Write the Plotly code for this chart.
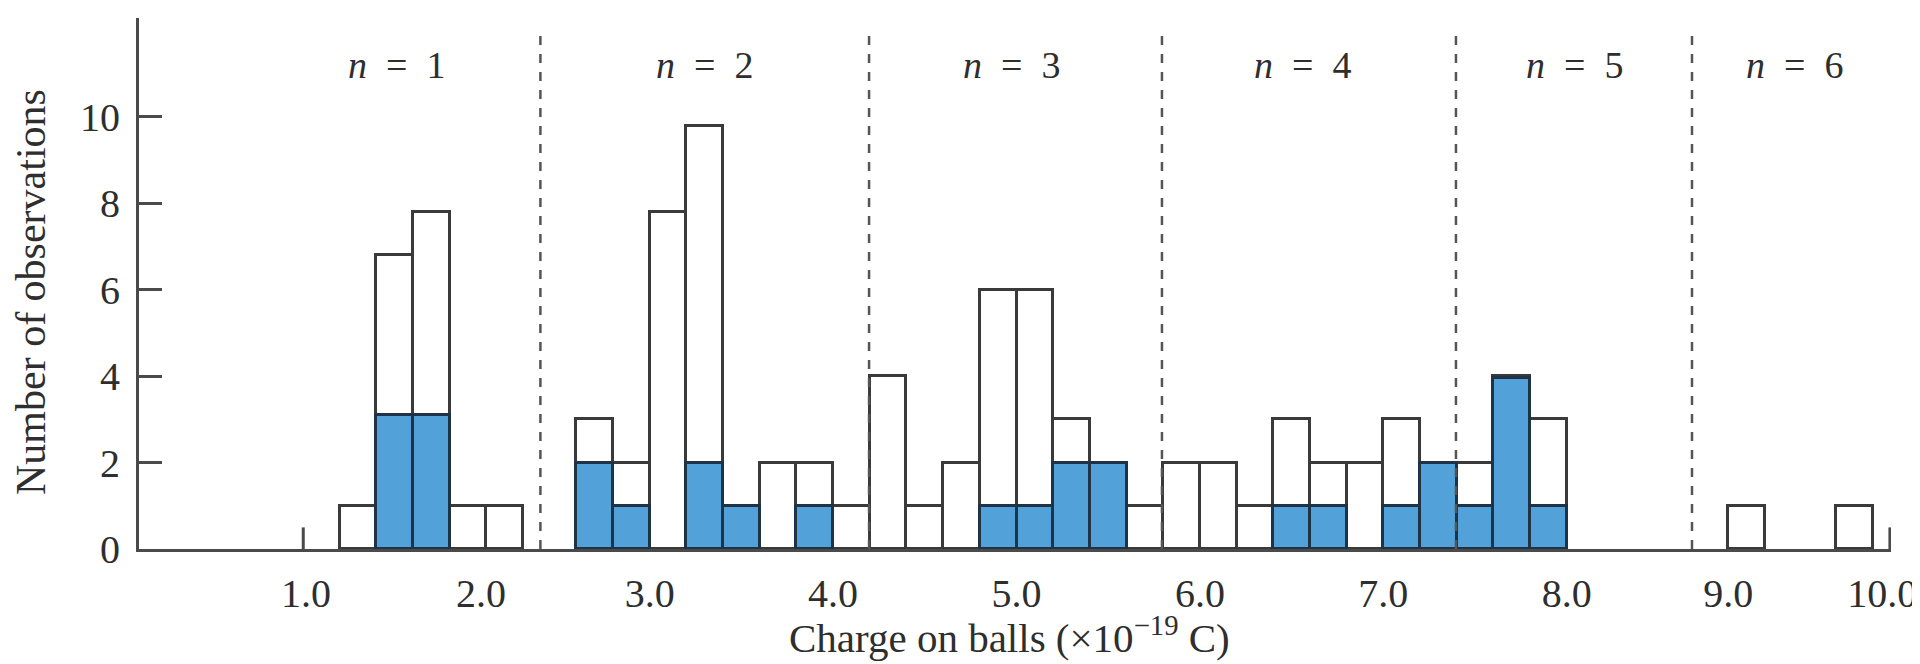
import plotly.graph_objects as go

# ---- data ----
bin_width = 0.2
bin_left = [1.31, 1.51, 1.71, 1.91, 2.11,
            2.6, 2.8, 3.0, 3.2, 3.4, 3.6, 3.8, 4.0, 4.2, 4.4, 4.6, 4.8, 5.0, 5.2,
            5.4, 5.6, 5.8, 6.0, 6.2, 6.4, 6.6, 6.8, 7.0, 7.2, 7.4, 7.6, 7.8,
            8.88, 9.47]
total_counts = [1, 6.8, 7.8, 1, 1,
                3, 2, 7.8, 9.8, 1, 2, 2, 1, 4, 1, 2, 6, 6, 3,
                2, 1, 2, 2, 1, 3, 2, 2, 3, 2, 2, 4, 3,
                1, 1]
blue_counts = [0, 3.1, 3.1, 0, 0,
               2, 1, 0, 2, 1, 0, 1, 0, 0, 0, 0, 1, 1, 2,
               2, 0, 0, 0, 0, 1, 1, 0, 1, 2, 1, 3.95, 1,
               0, 0]

n_boundaries = [2.404, 4.196, 5.793, 7.396, 8.683]
n_labels = ["1", "2", "3", "4", "5", "6"]
n_label_x = [1.617, 3.30, 4.975, 6.56, 8.04, 9.24]

x_tick_text = ["1.0", "2.0", "3.0", "4.0", "5.0", "6.0", "7.0", "8.0", "9.0", "10.0"]
y_tick_vals = [0, 2, 4, 6, 8, 10]
x_title = "Charge on balls (×10<sup>−19</sup> C)"
y_title = "Number of observations"

# ---- derived ----
centers = [l + bin_width / 2 for l in bin_left]
blue_x = [c for c, b in zip(centers, blue_counts) if b > 0]
blue_y = [b for b in blue_counts if b > 0]

FONT = "Liberation Serif"
INK = "#2e2e2e"
LINE = "#4a4a4a"

fig = go.Figure()
fig.add_trace(go.Bar(
    x=centers, y=total_counts, width=bin_width,
    marker=dict(color="white", line=dict(color="#3a3a3a", width=3)),
    showlegend=False, hoverinfo="x+y"))
fig.add_trace(go.Bar(
    x=blue_x, y=blue_y, width=bin_width,
    marker=dict(color="#52A2D9", line=dict(color="#1f3347", width=3)),
    showlegend=False, hoverinfo="x+y"))

x_range = [0.2154, 9.768]
y_top = 12.29

# dashed boundaries between charge groups
for xb in n_boundaries:
    fig.add_shape(type="line", xref="x", yref="y", x0=xb, x1=xb, y0=0, y1=11.94,
                  line=dict(color="#555555", width=2.5, dash="dash"), layer="above")

# small tick marks on the baseline (at 1.0 and at the axis end)
for xt in [1.111, x_range[1] - 0.006]:
    fig.add_shape(type="line", xref="x", yref="y", x0=xt, x1=xt, y0=0, y1=0.5,
                  line=dict(color=LINE, width=3), layer="above")

for lab, xc in zip(n_labels, n_label_x):
    fig.add_annotation(x=xc, y=11.2, xref="x", yref="y", showarrow=False,
                       text=f"<i>n</i>\u2002=\u2002{lab}",
                       font=dict(family=FONT, size=38, color=INK))

# axis titles
fig.add_annotation(x=0.497, y=0, xref="paper", yref="paper", yanchor="middle",
                   yshift=-86, showarrow=False, text=x_title,
                   font=dict(family=FONT, size=41, color=INK))
fig.add_annotation(x=0, y=0.484, xref="paper", yref="paper", xanchor="center",
                   xshift=-108, textangle=-90, showarrow=False, text=y_title,
                   font=dict(family=FONT, size=42, color=INK))

fig.update_layout(
    width=1920, height=664,
    margin=dict(l=131, r=37, t=10, b=123),
    paper_bgcolor="white", plot_bgcolor="white",
    barmode="overlay", bargap=0,
    font=dict(family=FONT, size=38, color=INK),
    xaxis=dict(
        range=x_range, showgrid=False, zeroline=False, automargin=False,
        showline=True, linecolor=LINE, linewidth=3,
        tickmode="array",
        tickvals=[1.126, 2.08, 3.0, 4.0, 5.0, 6.0, 7.0, 8.0, 8.88, 9.72],
        ticktext=x_tick_text, ticks="", ticklabelstandoff=7,
        tickfont=dict(family=FONT, size=40, color=INK),
    ),
    yaxis=dict(
        range=[0, y_top], showgrid=False, zeroline=False, automargin=False,
        showline=True, linecolor=LINE, linewidth=3,
        tickmode="array", tickvals=y_tick_vals,
        ticks="inside", ticklen=23, tickwidth=3, tickcolor=LINE,
        ticklabelstandoff=8,
        tickfont=dict(family=FONT, size=40, color=INK),
    ),
)

fig.write_html("out.html")
